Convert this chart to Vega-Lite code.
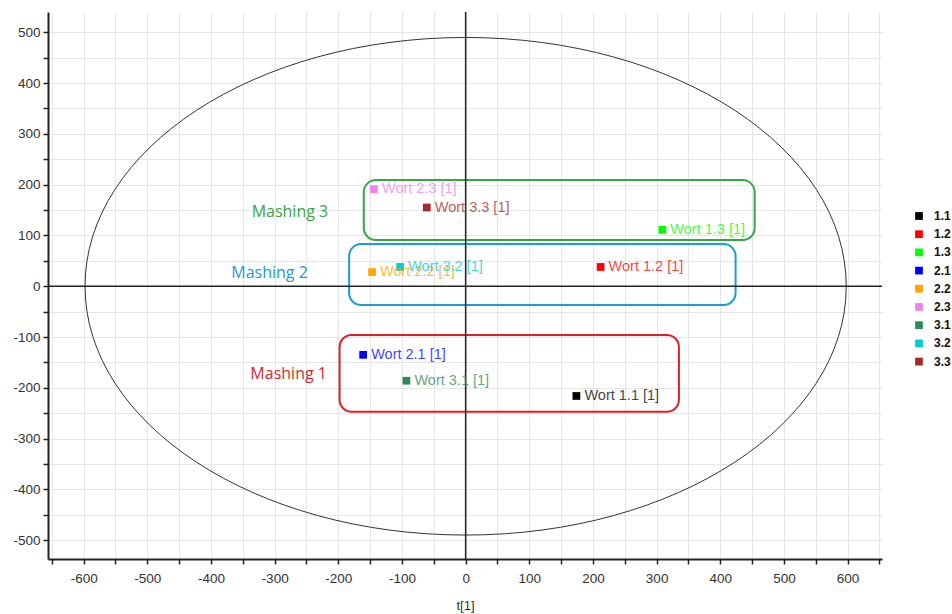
{
  "$schema": "https://vega.github.io/schema/vega-lite/v6.json",
  "width": 834,
  "height": 547,
  "autosize": {"type": "none"},
  "padding": {"left": 48, "top": 12, "right": 70, "bottom": 55},
  "background": "white",
  "config": {
    "view": {"stroke": null},
    "axis": {
      "labelFont": "Liberation Sans",
      "labelFontSize": 13.5,
      "labelColor": "#333333",
      "gridColor": "#e6e6e6",
      "gridWidth": 1,
      "domainColor": "#222222",
      "domainWidth": 2,
      "tickColor": "#222222",
      "tickWidth": 1.5,
      "tickSize": 5,
      "titleFont": "Liberation Sans",
      "titleFontWeight": "normal",
      "titleFontSize": 13,
      "titleColor": "#333333"
    }
  },
  "datasets": {
    "samples": [
      {"name": "Wort 1.1 [1]", "s": "1.1", "t1": 174, "t2": -216},
      {"name": "Wort 1.2 [1]", "s": "1.2", "t1": 212, "t2": 38},
      {"name": "Wort 1.3 [1]", "s": "1.3", "t1": 309, "t2": 111},
      {"name": "Wort 2.1 [1]", "s": "2.1", "t1": -161, "t2": -135},
      {"name": "Wort 2.2 [1]", "s": "2.2", "t1": -147, "t2": 28},
      {"name": "Wort 2.3 [1]", "s": "2.3", "t1": -144, "t2": 191},
      {"name": "Wort 3.1 [1]", "s": "3.1", "t1": -93, "t2": -186},
      {"name": "Wort 3.2 [1]", "s": "3.2", "t1": -103, "t2": 38},
      {"name": "Wort 3.3 [1]", "s": "3.3", "t1": -61, "t2": 155}
    ],
    "groups": [
      {"group": "Mashing 1", "x1": -198, "x2": 335, "y1": -96, "y2": -247, "lx": -278, "ly": -173},
      {"group": "Mashing 2", "x1": -183, "x2": 424, "y1": 83, "y2": -37, "lx": -308, "ly": 26},
      {"group": "Mashing 3", "x1": -160, "x2": 454, "y1": 209, "y2": 91, "lx": -276, "ly": 146}
    ],
    "origin": [{"v": 0}]
  },
  "layer": [
    {
      "data": {"name": "origin"},
      "mark": {
        "type": "point",
        "shape": "M -1 0 C -1 -0.3611 -0.5523 -0.6537 0 -0.6537 C 0.5523 -0.6537 1 -0.3611 1 0 C 1 0.3611 0.5523 0.6537 0 0.6537 C -0.5523 0.6537 -1 0.3611 -1 0 Z",
        "size": 579425,
        "filled": false,
        "stroke": "#333333",
        "strokeWidth": 1,
        "opacity": 1
      },
      "encoding": {
        "x": {"field": "v", "type": "quantitative"},
        "y": {"field": "v", "type": "quantitative"}
      }
    },
    {
      "data": {"name": "groups"},
      "mark": {"type": "rect", "fill": null, "fillOpacity": 0, "strokeWidth": 2, "cornerRadius": 12},
      "encoding": {
        "x": {"field": "x1", "type": "quantitative"},
        "x2": {"field": "x2"},
        "y": {"field": "y1", "type": "quantitative"},
        "y2": {"field": "y2"},
        "stroke": {
          "field": "group", "type": "nominal",
          "scale": {"domain": ["Mashing 1", "Mashing 2", "Mashing 3"], "range": ["#dd1f2a", "#1c9ad9", "#35a843"]},
          "legend": null
        }
      }
    },
    {
      "data": {"name": "origin"},
      "mark": {"type": "rule", "color": "#222222", "strokeWidth": 1.5},
      "encoding": {"x": {"field": "v", "type": "quantitative"}}
    },
    {
      "data": {"name": "origin"},
      "mark": {"type": "rule", "color": "#222222", "strokeWidth": 1.5},
      "encoding": {"y": {"field": "v", "type": "quantitative"}}
    },
    {
      "data": {"name": "samples"},
      "mark": {"type": "point", "shape": "square", "filled": true, "size": 60, "opacity": 1},
      "encoding": {
        "x": {
          "field": "t1", "type": "quantitative",
          "scale": {"domain": [-656, 654], "nice": false, "zero": false},
          "axis": {
            "title": "t[1]",
            "values": [-650, -600, -550, -500, -450, -400, -350, -300, -250, -200, -150, -100, -50, 0, 50, 100, 150, 200, 250, 300, 350, 400, 450, 500, 550, 600, 650],
            "tickCount": 200,
            "labelExpr": "datum.value % 100 === 0 ? '' + datum.value : ''",
            "labelOverlap": false,
            "labelFlush": false,
            "labelPadding": 7,
            "titleY": 40
          }
        },
        "y": {
          "field": "t2", "type": "quantitative",
          "scale": {"domain": [-537, 540], "nice": false, "zero": false},
          "axis": {
            "title": null,
            "values": [-500, -450, -400, -350, -300, -250, -200, -150, -100, -50, 0, 50, 100, 150, 200, 250, 300, 350, 400, 450, 500],
            "tickCount": 200,
            "labelExpr": "datum.value % 100 === 0 ? '' + datum.value : ''",
            "labelOverlap": false,
            "labelPadding": 3
          }
        },
        "color": {
          "field": "s", "type": "nominal",
          "scale": {
            "domain": ["1.1", "1.2", "1.3", "2.1", "2.2", "2.3", "3.1", "3.2", "3.3"],
            "range": ["#000000", "#ff0000", "#00ff00", "#0000ff", "#ffa500", "#ee82ee", "#2e8b57", "#00ced1", "#a52a2a"]
          },
          "legend": {
            "title": null,
            "orient": "none",
            "legendX": 865,
            "legendY": 198,
            "padding": 0,
            "symbolType": "square",
            "symbolSize": 60,
            "symbolStrokeWidth": 0,
            "rowPadding": 6.2,
            "labelOffset": 9,
            "labelFont": "Liberation Sans",
            "labelFontSize": 12,
            "labelFontWeight": "bold",
            "labelColor": "#111111"
          }
        }
      }
    },
    {
      "data": {"name": "samples"},
      "mark": {"type": "text", "align": "left", "baseline": "middle", "dx": 8, "font": "Liberation Sans", "fontSize": 14.5, "opacity": 0.75},
      "encoding": {
        "x": {"field": "t1", "type": "quantitative"},
        "y": {"field": "t2", "type": "quantitative"},
        "text": {"field": "name"},
        "color": {"field": "s", "type": "nominal", "legend": null}
      }
    },
    {
      "data": {"name": "groups"},
      "mark": {"type": "text", "align": "center", "baseline": "middle", "font": "Open Sans", "fontSize": 16},
      "encoding": {
        "x": {"field": "lx", "type": "quantitative"},
        "y": {"field": "ly", "type": "quantitative"},
        "text": {"field": "group"},
        "fill": {
          "field": "group", "type": "nominal",
          "scale": {"domain": ["Mashing 1", "Mashing 2", "Mashing 3"], "range": ["#dd1f2a", "#1c9ad9", "#35a843"]},
          "legend": null
        }
      }
    }
  ]
}
